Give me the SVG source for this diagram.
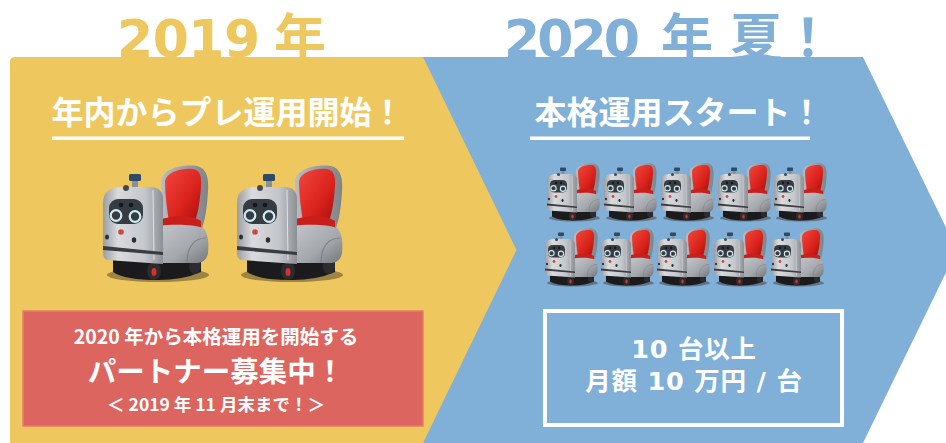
<svg xmlns="http://www.w3.org/2000/svg" xmlns:xlink="http://www.w3.org/1999/xlink" width="946" height="443" viewBox="0 0 946 443">
<style>
.ttl{font-family:"DejaVu Sans","Noto Sans CJK JP",sans-serif;font-weight:bold;font-size:52px}
.sub{font-family:"Noto Sans CJK JP",sans-serif;font-weight:bold;font-size:32px;fill:#fff}
.jp{font-family:"Noto Sans CJK JP",sans-serif;font-weight:bold;fill:#fff;text-anchor:middle}
.bx{font-family:"DejaVu Sans","Noto Sans CJK JP",sans-serif;font-weight:bold;font-size:25.5px;fill:#fff;text-anchor:middle;letter-spacing:0.8px}
</style>
<defs>
<linearGradient id="gMetal" x1="0" y1="0" x2="1" y2="0">
<stop offset="0" stop-color="#9a9da2"/><stop offset="0.25" stop-color="#d9dbde"/><stop offset="0.7" stop-color="#c3c6ca"/><stop offset="1" stop-color="#8c9095"/>
</linearGradient>
<linearGradient id="gMetal2" x1="0" y1="0" x2="1" y2="1">
<stop offset="0" stop-color="#c4c7cb"/><stop offset="0.6" stop-color="#a4a7ac"/><stop offset="1" stop-color="#73777c"/>
</linearGradient>
<linearGradient id="gShell" x1="0" y1="0" x2="1" y2="0">
<stop offset="0" stop-color="#b9bcc0"/><stop offset="1" stop-color="#7f8388"/>
</linearGradient>
<linearGradient id="gRed" x1="0" y1="0" x2="1" y2="1">
<stop offset="0" stop-color="#f2463d"/><stop offset="0.6" stop-color="#d9221c"/><stop offset="1" stop-color="#a80f0c"/>
</linearGradient>
<symbol id="robot" viewBox="0 0 106 118">
<ellipse cx="55" cy="110" rx="51" ry="7" fill="#3b3325" opacity="0.45"/>
<path d="M10 95 L98 95 L98 107 Q80 115 55 115 Q22 115 10 107 Z" fill="#1b1b1d"/>
<ellipse cx="51" cy="106" rx="7" ry="9" fill="#2c2c30"/>
<ellipse cx="51" cy="107" rx="2.5" ry="4" fill="#d2322b"/>
<ellipse cx="92" cy="101" rx="6" ry="8" fill="#2c2c30"/>
<path d="M58 16 C60 3 80 -1 94 1 C103 3 106 12 105 26 C104 44 102 56 98 66 L60 68 Z" fill="url(#gShell)"/>
<path d="M62 16 C64 7 78 3 90 4 C97 5 99 12 98 22 C97 36 95 48 92 56 L66 57 C64 44 62 30 62 16 Z" fill="url(#gRed)"/>
<path d="M57 55 C70 50 88 50 98 56 L98 63 C86 65 70 65 57 63 Z" fill="#c81f1a"/>
<path d="M54 61 C70 59 90 59 100 63 C105 67 106 78 105 88 C104 94 100 98 94 98 L54 98 Z" fill="url(#gMetal2)"/>
<path d="M84 98 C84 81 92 73 103 73" fill="none" stroke="#7e8287" stroke-width="1.2"/>
<path d="M0 38 C0 27 7 22 18 22 L48 22 C56 22 60 27 60 34 L60 99 L4 95 C1 94 0 91 0 87 Z" fill="url(#gMetal)"/>
<path d="M50 25 L51 95" stroke="#e2e4e6" stroke-width="1"/>
<path d="M0 81 L60 87 L60 90 L0 85 Z" fill="#3a3c40"/>
<rect x="29" y="14" width="6" height="8" fill="#8a8f96"/>
<rect x="26" y="9" width="12" height="7" rx="1.5" fill="#2f4a66"/>
<circle cx="23" cy="23" r="3" fill="#45484d"/>
<rect x="6" y="34" width="34" height="25" rx="9" fill="#373c42"/>
<circle cx="18" cy="40" r="2.3" fill="#151719"/>
<circle cx="28" cy="40" r="2.3" fill="#151719"/>
<circle cx="13" cy="50.5" r="5.3" fill="none" stroke="#cdeef5" stroke-width="2.2"/>
<circle cx="32" cy="51.5" r="5.3" fill="none" stroke="#cdeef5" stroke-width="2.2"/>
<circle cx="18" cy="67" r="2.8" fill="#d2463c"/>
<ellipse cx="4" cy="72" rx="2" ry="2.6" fill="#2a2c30"/>
<ellipse cx="31" cy="75" rx="2.2" ry="2.8" fill="#2a2c30"/>
</symbol>
</defs>
<rect width="946" height="443" fill="#fff"/>
<g id="title-2019"><text class="ttl" y="57" fill="#eec85e"><tspan x="117" letter-spacing="-0.5">2019</tspan><tspan x="274">年</tspan></text></g>
<g id="title-2020"><text class="ttl" y="57" fill="#80afd8"><tspan x="504" letter-spacing="-2.9">2020</tspan><tspan x="661">年</tspan><tspan x="730">夏</tspan><tspan x="782">！</tspan></text></g>
<g id="panel-2020">
<path d="M423 57 L863 57 L957 250 L863 443 L423 443 Z" fill="#80afd8"/>
<text class="sub" x="534.5" y="124">本格運用スタート！</text>
<rect x="530" y="136.5" width="280" height="3.5" fill="#fff"/>
<g id="robots-2020">
<use xlink:href="#robot" href="#robot" x="547" y="163" width="53" height="59"/>
<use xlink:href="#robot" href="#robot" x="604" y="163" width="53" height="59"/>
<use xlink:href="#robot" href="#robot" x="661" y="163" width="53" height="59"/>
<use xlink:href="#robot" href="#robot" x="718" y="163" width="53" height="59"/>
<use xlink:href="#robot" href="#robot" x="774" y="163" width="53" height="59"/>
<use xlink:href="#robot" href="#robot" x="545" y="228" width="53" height="59"/>
<use xlink:href="#robot" href="#robot" x="601" y="228" width="53" height="59"/>
<use xlink:href="#robot" href="#robot" x="657" y="228" width="53" height="59"/>
<use xlink:href="#robot" href="#robot" x="714" y="228" width="53" height="59"/>
<use xlink:href="#robot" href="#robot" x="771" y="228" width="53" height="59"/>
</g>
<g id="price-box">
<rect x="545" y="311" width="297" height="114" fill="none" stroke="#fff" stroke-width="4"/>
<text class="bx" x="694" y="357.5">10 台以上</text>
<text class="bx" x="694" y="390">月額 10 万円 / 台</text>
</g>
</g>
<g id="panel-2019">
<path d="M10 62 Q10 57 15 57 L423 57 L516.5 250 L423 443 L10 443 Z" fill="#eec85e"/>
<text class="sub" x="51.5" y="124">年内からプレ運用開始！</text>
<rect x="52" y="136.5" width="352" height="3.5" fill="#fff"/>
<g id="robots-2019">
<use xlink:href="#robot" href="#robot" x="103" y="165" width="106" height="118"/>
<use xlink:href="#robot" href="#robot" x="237" y="165" width="106" height="118"/>
</g>
<g id="partner-box">
<rect x="23" y="311" width="400" height="115" fill="#dd6560" stroke="#e57c68" stroke-width="1.5"/>
<text class="jp" x="216" y="344" font-size="19.5">2020 年から本格運用を開始する</text>
<text class="jp" x="216" y="382" font-size="28.5">パートナー募集中！</text>
<text class="jp" x="216" y="411" font-size="17.5">＜ 2019 年 11 月末まで！＞</text>
</g>
</g>
</svg>
